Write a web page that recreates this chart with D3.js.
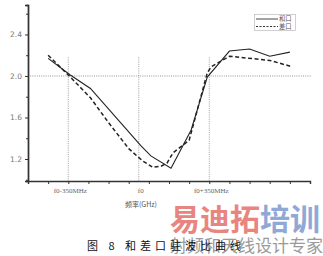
<!DOCTYPE html>
<html>
<head>
<meta charset="utf-8">
<script src="https://cdn.jsdelivr.net/npm/d3@7"></script>
<style>
  body { margin: 0; background: #fff; }
  svg { display: block; }
</style>
</head>
<body>
<div id="chart"></div>
<script>
// ----------------------------------------
// DATA (frequency in GHz, VSWR)

var sumFreq = [2.00, 2.11, 2.21, 2.46, 2.51, 2.61, 2.71, 2.79, 2.90, 3.00, 3.10, 3.20];
var sumVswr = [2.17, 2.01, 1.88, 1.33, 1.23, 1.11, 1.48, 1.99, 2.24, 2.26, 2.19, 2.23];

var diffFreq = [2.00, 2.11, 2.21, 2.30, 2.40, 2.47, 2.52, 2.56, 2.59, 2.62, 2.70, 2.79, 2.81, 2.90, 3.10, 3.21];
var diffVswr = [2.20, 1.99, 1.79, 1.55, 1.30, 1.18, 1.12, 1.13, 1.16, 1.26, 1.38, 2.03, 2.09, 2.19, 2.15, 2.09];

var yTicks = [1.2, 1.6, 2.0, 2.4];
var yMinor = [1.0, 1.4, 1.8, 2.2, 2.6];
var xTicks = d3.range(19, 34).map(function (d) { return d / 10; });
var markFreq = [2.10, 2.45, 2.80];
var markLabels = ["f0-350MHz", "f0", "f0+350MHz"];
var seriesNames = ["和口", "差口"];

// ----------------------------------------
// SETUP

var width = 323, height = 256;
var padLeft = 28, padRight = 310, padTop = 5, padBottom = 181;

var svg = d3.select("#chart").append("svg")
  .attr("width", width)
  .attr("height", height);

var x = d3.scaleLinear().domain([1.9, 3.3]).range([padLeft, padRight]);
var y = d3.scaleLinear().domain([0.988, 2.684]).range([padBottom, padTop]);

// dotted guide lines
svg.append("line")
  .attr("x1", padLeft).attr("x2", 312)
  .attr("y1", y(2.0)).attr("y2", y(2.0))
  .attr("stroke", "#777").attr("stroke-width", 0.8)
  .attr("stroke-dasharray", "1,1.2");

svg.selectAll(".vmark").data(markFreq).enter().append("line")
  .attr("class", "vmark")
  .attr("x1", function (d) { return x(d); })
  .attr("x2", function (d) { return x(d); })
  .attr("y1", y(2.18)).attr("y2", padBottom)
  .attr("stroke", "#888").attr("stroke-width", 0.8)
  .attr("stroke-dasharray", "1,1.2");

// axes
var yAxis = svg.append("g")
  .attr("transform", "translate(" + padLeft + ",0)")
  .call(d3.axisLeft(y).tickValues(yTicks).tickSize(3).tickFormat(d3.format(".1f")));
var yAxisMinor = svg.append("g")
  .attr("transform", "translate(" + padLeft + ",0)")
  .call(d3.axisLeft(y).tickValues(yMinor).tickSize(2).tickFormat(""));
var xAxis = svg.append("g")
  .attr("transform", "translate(0," + padBottom + ")")
  .call(d3.axisBottom(x).tickValues(xTicks).tickSize(3).tickFormat(""));

[yAxis, yAxisMinor, xAxis].forEach(function (g) {
  g.select(".domain").attr("stroke", "#333").attr("stroke-width", 1.4);
  g.selectAll(".tick line").attr("stroke", "#333").attr("stroke-width", 1);
});
yAxis.selectAll(".tick text")
  .attr("fill", "#777")
  .attr("font-family", "DejaVu Sans, sans-serif")
  .attr("font-size", 7.5)
  .attr("x", -6);

// x labels
svg.selectAll(".xlab").data(markFreq).enter().append("text")
  .attr("class", "xlab")
  .attr("x", function (d) { return x(d) + 2; })
  .attr("y", 193)
  .attr("text-anchor", "middle")
  .attr("font-family", "Liberation Serif, serif")
  .attr("font-size", 7)
  .attr("fill", "#666")
  .text(function (d, i) { return markLabels[i]; });

svg.append("text")
  .attr("x", 141).attr("y", 207)
  .attr("text-anchor", "middle")
  .attr("font-family", "Noto Sans CJK SC, sans-serif")
  .attr("font-size", 7)
  .attr("fill", "#555")
  .text("频率(GHz)");

// lines
var line = d3.line()
  .x(function (d) { return x(d[0]); })
  .y(function (d) { return y(d[1]); });

svg.append("path")
  .attr("d", line(d3.zip(sumFreq, sumVswr)))
  .attr("fill", "none")
  .attr("stroke", "#222")
  .attr("stroke-width", 1.1);

svg.append("path")
  .attr("d", line(d3.zip(diffFreq, diffVswr)))
  .attr("fill", "none")
  .attr("stroke", "#222")
  .attr("stroke-width", 1.5)
  .attr("stroke-dasharray", "4,2.5");

// legend
var legend = svg.append("g");
legend.append("rect")
  .attr("x", 254.5).attr("y", 14.5)
  .attr("width", 41).attr("height", 16)
  .attr("fill", "#fff").attr("stroke", "#bbb").attr("stroke-width", 0.7);
seriesNames.forEach(function (name, i) {
  var ly = 19 + i * 7.5;
  legend.append("line")
    .attr("x1", 256).attr("x2", 278)
    .attr("y1", ly).attr("y2", ly)
    .attr("stroke", "#333")
    .attr("stroke-width", i ? 1.1 : 0.9)
    .attr("stroke-dasharray", i ? "2,1.5" : null);
  legend.append("text")
    .attr("x", 279).attr("y", ly + 2.2)
    .attr("font-family", "Noto Sans CJK SC, sans-serif")
    .attr("font-size", 6.3)
    .attr("fill", "#555")
    .text(name);
});

// watermark
svg.append("text")
  .attr("x", 170).attr("y", 230)
  .attr("font-family", "Noto Sans CJK SC, sans-serif")
  .attr("font-weight", "bold")
  .attr("font-size", 30)
  .selectAll("tspan")
  .data([["易迪拓", "#e98580"], ["培训", "#90a8d6"]])
  .enter().append("tspan")
  .attr("fill", function (d) { return d[1]; })
  .text(function (d) { return d[0]; });

svg.append("text")
  .attr("x", 170).attr("y", 252)
  .attr("font-family", "Noto Sans CJK SC, sans-serif")
  .attr("font-size", 17)
  .attr("fill", "#9a9a9a")
  .text("射频和天线设计专家");

// caption
svg.append("text")
  .attr("x", 87).attr("y", 250)
  .attr("font-family", "Noto Sans CJK SC, sans-serif")
  .attr("font-size", 11)
  .attr("letter-spacing", 4)
  .attr("fill", "#111")
  .text("图 8 和差口驻波比曲线");
</script>
</body>
</html>
